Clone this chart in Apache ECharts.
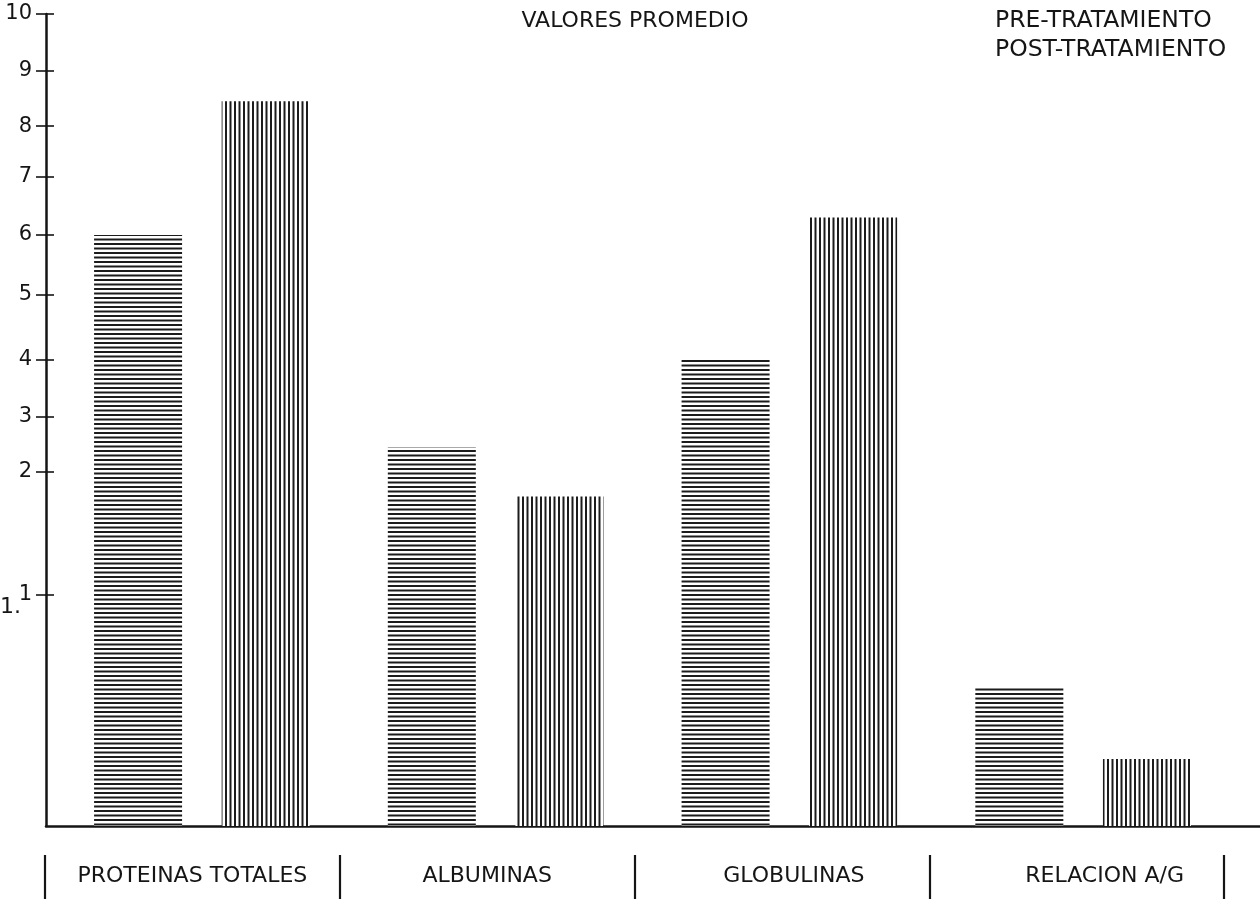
<!DOCTYPE html>
<html>
<head>
<meta charset="utf-8">
<script src="https://cdn.jsdelivr.net/npm/echarts@6/dist/echarts.min.js"></script>
<style>
  html, body { margin: 0; padding: 0; background: #ffffff; }
  #chart { width: 1260px; height: 902px; }
</style>
</head>
<body>
<div id="chart"></div>
<script>
// ---- data ----
const categories = ['PROTEINAS TOTALES', 'ALBUMINAS', 'GLOBULINAS', 'RELACION A/G'];
const seriesNames = ['PRE-TRATAMIENTO', 'POST-TRATAMIENTO'];
const preTratamiento = [6.0, 2.45, 4.0, 0.6];
const postTratamiento = [8.45, 1.8, 6.3, 0.29];
const yTickValues = [1, 2, 3, 4, 5, 6, 7, 8, 9, 10];
const chartTitle = 'VALORES PROMEDIO';

// ---- the hand-drawn, non-uniform value axis of the original ----
// value stops and the share of the axis height each stop sits at
const AXIS_STOPS = [0, 1, 2, 3, 4, 5, 6, 7, 8, 9, 10];
const AXIS_SHARE = [0, 0.2845, 0.436, 0.5037, 0.5739, 0.6539, 0.7278, 0.7993, 0.862, 0.9298, 1];
function toAxis(v) {
  for (let i = 1; i < AXIS_STOPS.length; i++) {
    if (v <= AXIS_STOPS[i]) {
      const t = (v - AXIS_STOPS[i - 1]) / (AXIS_STOPS[i] - AXIS_STOPS[i - 1]);
      return 10 * (AXIS_SHARE[i - 1] + t * (AXIS_SHARE[i] - AXIS_SHARE[i - 1]));
    }
  }
  return 10;
}
function fromAxis(a) {
  const s = a / 10;
  for (let i = 1; i < AXIS_SHARE.length; i++) {
    if (s <= AXIS_SHARE[i] + 1e-9) {
      const t = (s - AXIS_SHARE[i - 1]) / (AXIS_SHARE[i] - AXIS_SHARE[i - 1]);
      return AXIS_STOPS[i - 1] + t * (AXIS_STOPS[i] - AXIS_STOPS[i - 1]);
    }
  }
  return 10;
}

// ---- hatch patterns ----
function hatch(dir) {
  const c = document.createElement('canvas');
  c.width = 9; c.height = 9;
  const g = c.getContext('2d');
  g.fillStyle = '#ffffff';
  g.fillRect(0, 0, 9, 9);
  g.fillStyle = '#1c1c1c';
  if (dir === 'h') {
    g.fillRect(0, 0, 9, 2);
    g.fillRect(0, 4.5, 9, 2);
  } else {
    g.fillRect(0, 0, 2, 9);
    g.fillRect(4.5, 0, 2, 9);
  }
  return c;
}

const FONT = '"DejaVu Sans", "Noto Sans", sans-serif';
const INK = '#151515';
const tickAxisValues = yTickValues.map(toAxis);

// label nudges copied from the hand-lettered original (extra left padding)
const labelPadLeft = [0, 0, 24, 56];
const categoryLabels = categories.map(function (name, i) {
  return { value: name, textStyle: { padding: [0, 0, 0, labelPadLeft[i]] } };
});

const chart = echarts.init(document.getElementById('chart'), null, { renderer: 'canvas' });
chart.setOption({
  backgroundColor: '#ffffff',
  animation: false,
  title: {
    text: chartTitle,
    left: 630,
    top: 5,
    textAlign: 'center',
    textStyle: { fontFamily: FONT, fontSize: 22, fontWeight: 'normal', color: INK }
  },
  legend: {
    data: seriesNames,
    orient: 'vertical',
    left: 985,
    top: 4,
    itemWidth: 0,
    itemHeight: 0,
    itemGap: 5,
    selectedMode: false,
    textStyle: { fontFamily: FONT, fontSize: 23.5, color: INK }
  },
  grid: [
    { left: 55, right: 30, top: 14, bottom: 76 },   // bars
    { left: 46, right: 0, top: 14, bottom: 76 },    // visible axes
    { left: 45, right: 36, top: 14, bottom: 47 }    // category separators + labels
  ],
  xAxis: [
    { gridIndex: 0, type: 'category', data: categories, show: false },
    {
      gridIndex: 1, type: 'category', data: categories,
      axisLine: { show: true, lineStyle: { color: INK, width: 2.5 } },
      axisTick: { show: false }, axisLabel: { show: false }, splitLine: { show: false }
    },
    {
      gridIndex: 2, type: 'category', data: categoryLabels,
      axisLine: { show: false },
      axisTick: { show: true, interval: 0, length: 44, lineStyle: { color: INK, width: 2.2 } },
      axisLabel: { show: true, interval: 0, margin: 10, fontFamily: FONT, fontSize: 22, color: INK },
      splitLine: { show: false }
    }
  ],
  yAxis: [
    { gridIndex: 0, type: 'value', min: 0, max: 10, show: false },
    {
      gridIndex: 1, type: 'value', min: 0, max: 10,
      axisLine: { show: true, lineStyle: { color: INK, width: 2.5 } },
      axisTick: { show: true, length: 10, customValues: tickAxisValues, lineStyle: { color: INK, width: 1.6 } },
      axisLabel: {
        show: true, margin: 14, customValues: tickAxisValues,
        fontFamily: FONT, fontSize: 21, color: INK,
        formatter: function (a) { return String(Math.round(fromAxis(a))); }
      },
      splitLine: { show: false }
    },
    {
      gridIndex: 1, type: 'value', min: 0, max: 10, position: 'left',
      axisLine: { show: false },
      axisTick: { show: true, inside: true, length: 8, customValues: tickAxisValues, lineStyle: { color: INK, width: 1.6 } },
      axisLabel: { show: false }, splitLine: { show: false }
    },
    { gridIndex: 2, type: 'value', min: 0, max: 10, show: false }
  ],
  series: [
    {
      name: seriesNames[0], type: 'bar', xAxisIndex: 0, yAxisIndex: 0,
      barWidth: 88, barGap: '45%',
      itemStyle: { color: { image: hatch('h'), repeat: 'repeat' } },
      data: preTratamiento.map(toAxis)
    },
    {
      name: seriesNames[1], type: 'bar', xAxisIndex: 0, yAxisIndex: 0,
      barWidth: 88, barGap: '45%',
      itemStyle: { color: { image: hatch('v'), repeat: 'repeat' } },
      data: postTratamiento.map(toAxis)
    }
  ],
  graphic: [
    {
      type: 'text', left: 0, top: 596,
      style: { text: '1.', fontFamily: FONT, fontSize: 22, fill: INK }
    }
  ]
});
</script>
</body>
</html>
